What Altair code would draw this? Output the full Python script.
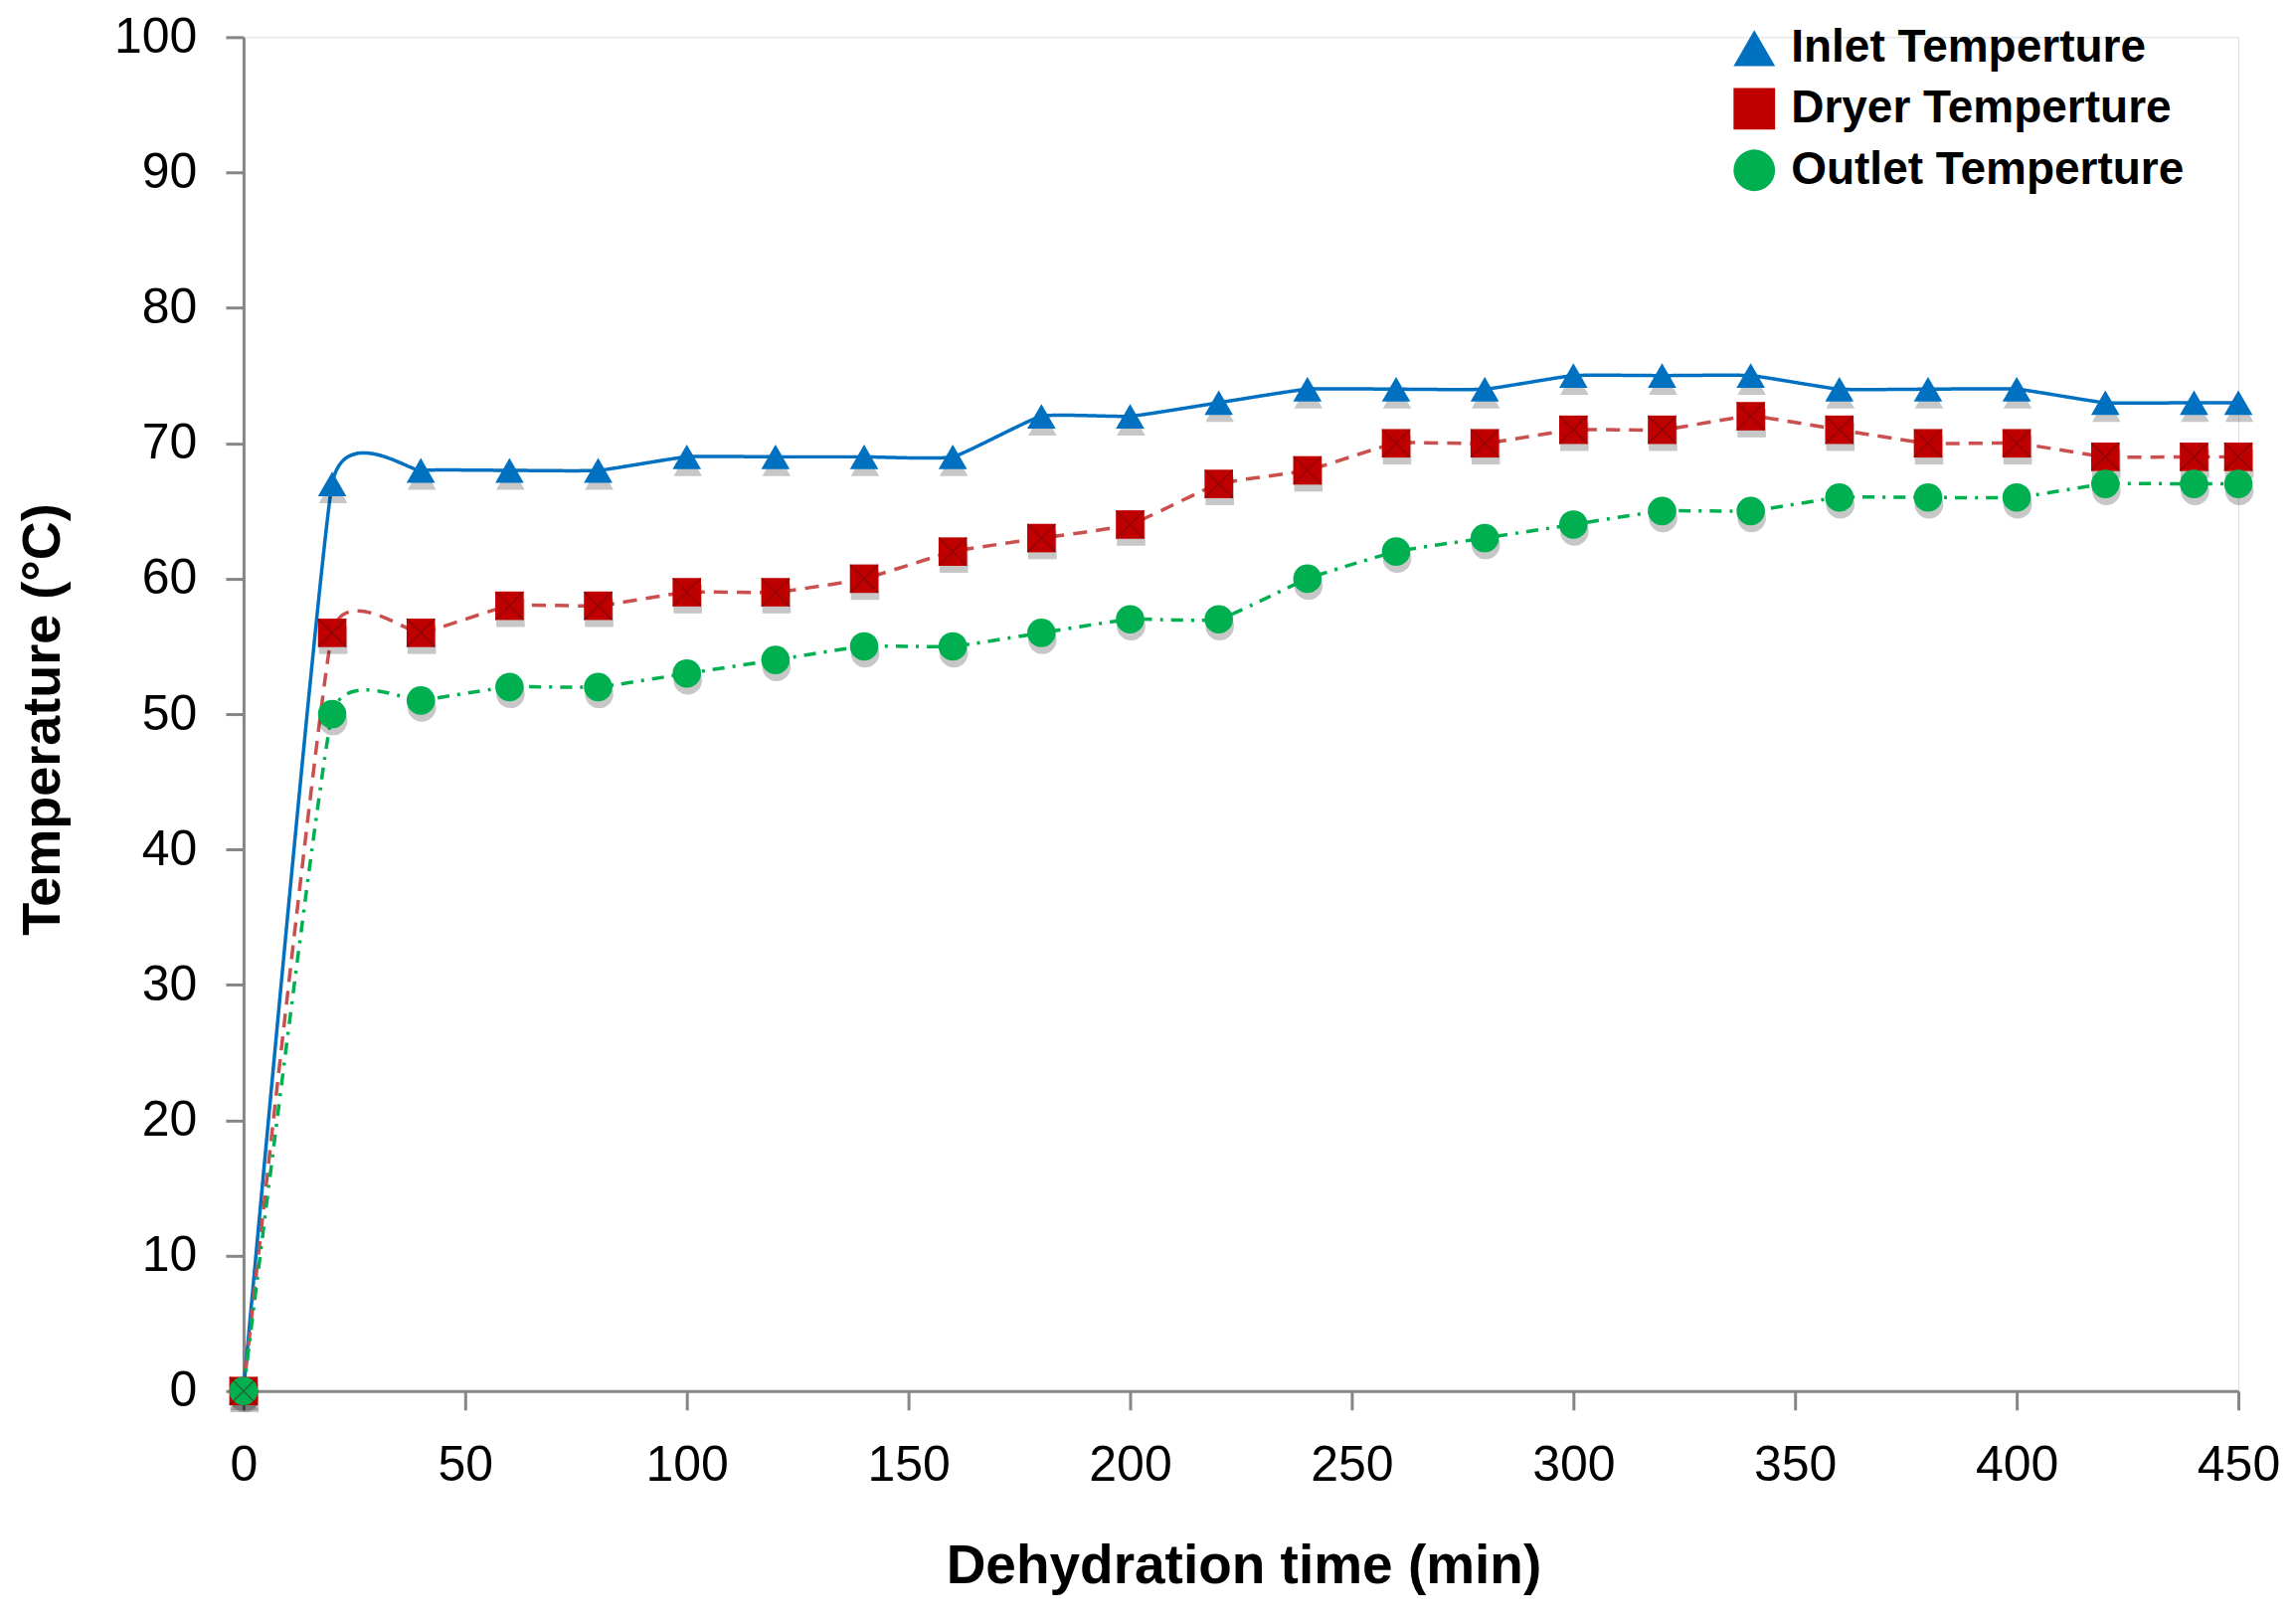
import altair as alt
import pandas as pd

# ---- data ----
time_min = [0, 20, 40, 60, 80, 100, 120, 140, 160, 180, 200, 220, 240, 260,
            280, 300, 320, 340, 360, 380, 400, 420, 440, 450]
inlet = [0, 67, 68, 68, 68, 69, 69, 69, 69, 72, 72, 73, 74, 74,
         74, 75, 75, 75, 74, 74, 74, 73, 73, 73]
dryer = [0, 56, 56, 58, 58, 59, 59, 60, 62, 63, 64, 67, 68, 70,
         70, 71, 71, 72, 71, 70, 70, 69, 69, 69]
outlet = [0, 50, 51, 52, 52, 53, 54, 55, 55, 56, 57, 57, 60, 62,
          63, 64, 65, 65, 66, 66, 66, 67, 67, 67]

series_names = ["Inlet Temperture", "Dryer Temperture", "Outlet Temperture"]
marker_colors = ["#0070C0", "#C00000", "#00B050"]
line_colors = ["#0070C0", "#C9504E", "#00B050"]
marker_shapes = ["triangle-up", "square", "circle"]
line_dashes = [[1, 0], [14, 9], [12, 8, 3, 8]]
x_ticks = [0, 50, 100, 150, 200, 250, 300, 350, 400, 450]
y_ticks = [0, 10, 20, 30, 40, 50, 60, 70, 80, 90, 100]

rows = []
for k, (name, vals) in enumerate(zip(series_names, [inlet, dryer, outlet])):
    for t, v in zip(time_min, vals):
        rows.append({"time": t, "temp": v, "series": name, "ord": k})
df = pd.DataFrame(rows)

FONT = "Liberation Sans"
AXIS_GRAY = "#868686"

x_enc = alt.X(
    "time:Q",
    scale=alt.Scale(domain=[0, 450], nice=False, zero=False),
    axis=alt.Axis(
        values=x_ticks, grid=False, domainColor=AXIS_GRAY, domainWidth=3,
        tickColor=AXIS_GRAY, tickWidth=3, tickSize=19,
        labelFont=FONT, labelFontSize=50, labelColor="black", labelPadding=31,
        labelFlush=False,
        title="Dehydration time (min)", titleFont=FONT, titleFontSize=55,
        titleFontWeight="bold", titleColor="black",
        titleX=1006, titleY=176, titleBaseline="middle", titleAlign="center",
    ),
)
y_enc = alt.Y(
    "temp:Q",
    scale=alt.Scale(domain=[0, 100], nice=False),
    axis=alt.Axis(
        values=y_ticks, grid=False, domainColor=AXIS_GRAY, domainWidth=3,
        tickColor=AXIS_GRAY, tickWidth=3, tickSize=18,
        labelFont=FONT, labelFontSize=50, labelColor="black", labelPadding=29,
        labelFlush=False,
        title="Temperature (°C)", titleFont=FONT, titleFontSize=54,
        titleFontWeight="bold", titleColor="black", titleAngle=270,
        titleX=-201, titleY=686, titleBaseline="middle", titleAlign="center",
    ),
)

base = alt.Chart(df)

# one line layer per series (fixed colour / dash, no legend-bearing channels)
lines = []
for name, col, dash in zip(series_names, line_colors, line_dashes):
    lines.append(
        base.transform_filter(alt.datum.series == name)
        .mark_line(interpolate="cardinal", tension=0.6, strokeWidth=3.5,
                   color=col, strokeDash=dash)
        .encode(x=x_enc, y=y_enc)
    )

# marker shadows
shadows = []
for name, shp in zip(series_names, marker_shapes):
    shadows.append(
        base.transform_filter(alt.datum.series == name)
        .mark_point(filled=True, shape=shp, color="#000000", opacity=0.22,
                    size=820, yOffset=7, xOffset=1)
        .encode(x=x_enc, y=y_enc)
    )

legend = alt.Legend(
    title=None, orient="none", legendX=1497, legendY=-12,
    labelFont=FONT, labelFontSize=46, labelFontWeight="bold", labelColor="black",
    labelLimit=800, labelOffset=14, symbolSize=1750,
    symbolOpacity=1, rowPadding=14, padding=0,
)

points = base.mark_point(filled=True, opacity=1, size=820).encode(
    x=x_enc,
    y=y_enc,
    color=alt.Color("series:N", scale=alt.Scale(domain=series_names, range=marker_colors), legend=legend),
    shape=alt.Shape("series:N", scale=alt.Scale(domain=series_names, range=marker_shapes), legend=legend),
    order=alt.Order("ord:Q"),
)

crosses = base.transform_filter(
    alt.datum.series == series_names[1]
).mark_point(
    shape="M-1,-1L1,1M-1,1L1,-1", filled=False, color="#5a0d0d",
    strokeWidth=1.2, size=800, opacity=0.55,
).encode(x=x_enc, y=y_enc)

chart = alt.layer(*lines, *shadows, points, crosses).properties(
    width=2007,
    height=1362,
    padding={"left": 237, "top": 29, "right": 50, "bottom": 220},
    autosize=alt.AutoSizeParams(type="none"),
).configure_view(stroke="transparent", strokeWidth=0).configure(background="white")

chart.save("out.html", embed_options={"renderer": "svg", "actions": False})
